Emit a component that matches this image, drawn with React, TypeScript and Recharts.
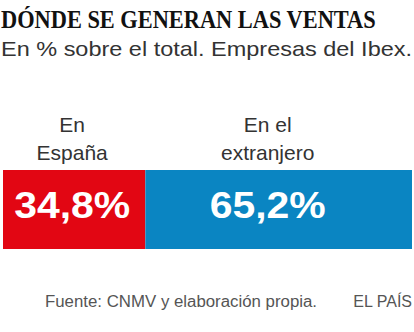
import { BarChart, Bar, XAxis, YAxis, LabelList } from "recharts";

// Reparto de ventas de las empresas del Ibex (% sobre el total)
const CATEGORY = ["Ventas"];
const SERIES_KEYS = ["espana", "extranjero"];
const SERIES_LABELS = [["En", "España"], ["En el", "extranjero"]];
const SERIES_VALUES = [34.8, 65.2];

const COLORS = ["#E20613", "#0A85C2"];
// small horizontal nudge: the "extranjero" text sits left of the bar centre in the original
const LABEL_DX = [-2, -11];

const TITLE = "DÓNDE SE GENERAN LAS VENTAS";
const SUBTITLE = "En % sobre el total. Empresas del Ibex.";
const SOURCE = "Fuente: CNMV y elaboración propia.";
const BRAND = "EL PAÍS";

const data = CATEGORY.map((name) => {
  const row: Record<string, string | number> = { name };
  SERIES_KEYS.forEach((k, i) => {
    row[k] = SERIES_VALUES[i];
  });
  return row;
});

const fmt = (v: number) => v.toFixed(1).replace(".", ",") + "%";

// Liberation Serif Bold is wider than the condensed headline face, squeeze it
const TITLE_SCALE = 0.861;

function makeLabel(idx: number) {
  return (props: any) => {
    const x = Number(props.x);
    const y = Number(props.y);
    const w = Number(props.width);
    const h = Number(props.height);
    const cx = x + w / 2 + LABEL_DX[idx];
    const [l1, l2] = SERIES_LABELS[idx];
    return (
      <g>
        <text x={cx} y={y - 38} textAnchor="middle" fontFamily="Liberation Sans" fontSize={21} fill="#333">
          {l1}
        </text>
        <text x={cx} y={y - 10} textAnchor="middle" fontFamily="Liberation Sans" fontSize={21} fill="#333">
          {l2}
        </text>
        <text
          x={cx}
          y={y + h / 2 + 8}
          textAnchor="middle"
          fontFamily="Liberation Sans"
          fontWeight="bold"
          fontSize={36}
          fill="#fff"
          textLength={116}
          lengthAdjust="spacingAndGlyphs"
        >
          {fmt(Number(props.value))}
        </text>
      </g>
    );
  };
}

export default function App() {
  return (
    <div style={{ position: "absolute", left: 0, top: 0, width: 414, height: 332, background: "#fff" }}>
      <svg width={414} height={332} style={{ position: "absolute", left: 0, top: 0 }}>
        <text
          x={1 / TITLE_SCALE}
          y={28}
          transform={`scale(${TITLE_SCALE},1)`}
          fontFamily="Liberation Serif"
          fontWeight="bold"
          fontSize={26}
          fill="#111"
        >
          {TITLE}
        </text>
        <text
          x={1}
          y={56}
          fontFamily="Liberation Sans"
          fontSize={21}
          fill="#333"
          textLength={411}
          lengthAdjust="spacingAndGlyphs"
        >
          {SUBTITLE}
        </text>
        <text x={45} y={307} fontFamily="Liberation Sans" fontSize={16} fill="#555" textLength={272} lengthAdjust="spacingAndGlyphs">
          {SOURCE}
        </text>
        <text x={412} y={307} textAnchor="end" fontFamily="Liberation Sans" fontSize={16} fill="#555">
          {BRAND}
        </text>
      </svg>
      <div style={{ position: "absolute", left: 0, top: 0 }}>
        <BarChart
          width={414}
          height={332}
          data={data}
          layout="vertical"
          margin={{ top: 170, right: 2, bottom: 83, left: 3 }}
          barCategoryGap={0}
        >
          <XAxis type="number" domain={[0, 100]} hide />
          <YAxis type="category" dataKey="name" hide />
          {SERIES_KEYS.map((k, i) => (
            <Bar key={k} dataKey={k} stackId="a" fill={COLORS[i]} isAnimationActive={false}>
              <LabelList dataKey={k} content={makeLabel(i)} />
            </Bar>
          ))}
        </BarChart>
      </div>
    </div>
  );
}
